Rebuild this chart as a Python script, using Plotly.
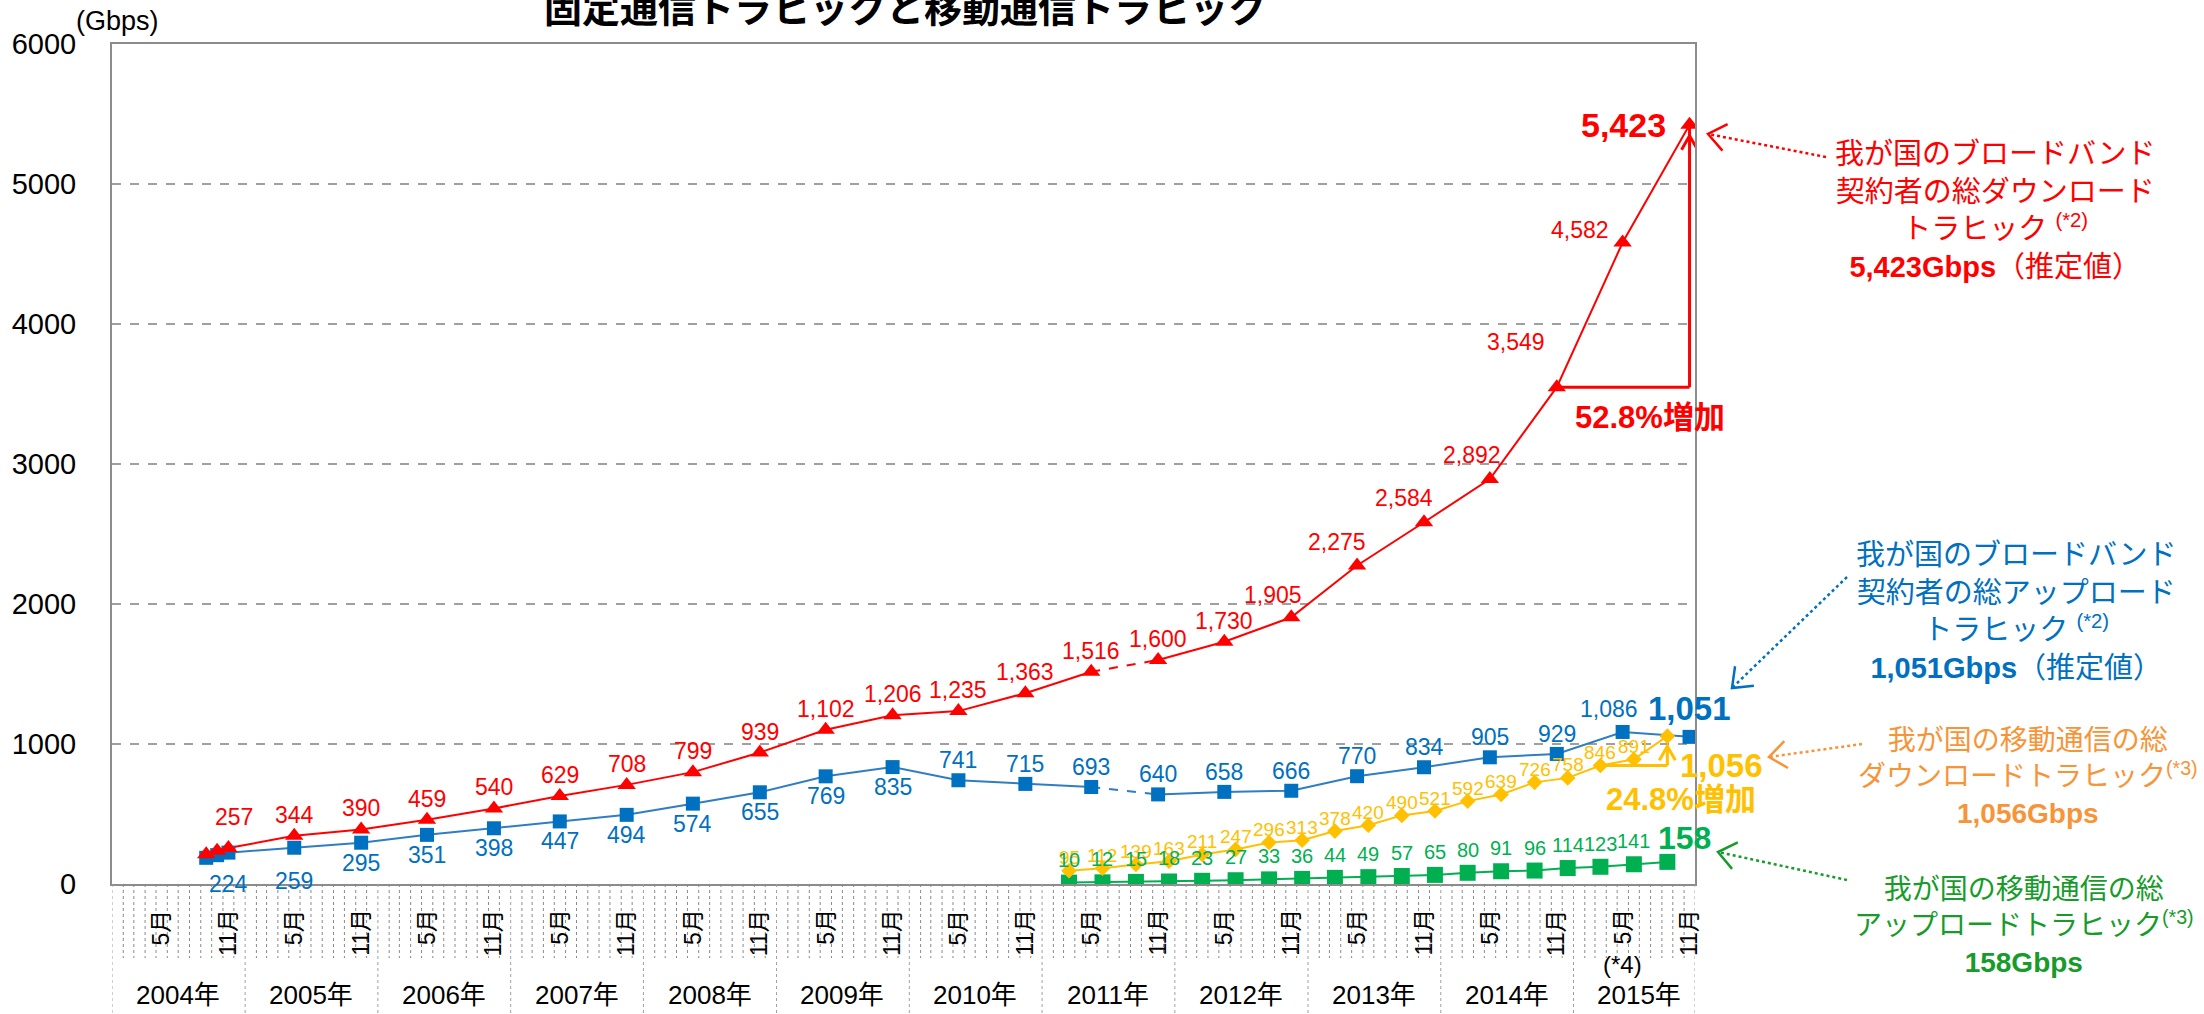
import math
import plotly.graph_objects as go

# ---------------- data ----------------
fixed_months = ["2004-09", "2004-10", "2004-11", "2005-05", "2005-11", "2006-05", "2006-11",
                "2007-05", "2007-11", "2008-05", "2008-11", "2009-05", "2009-11", "2010-05",
                "2010-11", "2011-05", "2011-11", "2012-05", "2012-11", "2013-05", "2013-11",
                "2014-05", "2014-11", "2015-05", "2015-11"]
fixed_download = [213, 237, 257, 344, 390, 459, 540, 629, 708, 799, 939, 1102, 1206, 1235,
                  1363, 1516, 1600, 1730, 1905, 2275, 2584, 2892, 3549, 4582, 5423]
fixed_upload = [187, 206, 224, 259, 295, 351, 398, 447, 494, 574, 655, 769, 835, 741,
                715, 693, 640, 658, 666, 770, 834, 905, 929, 1086, 1051]

mobile_months = ["2011-03", "2011-06", "2011-09", "2011-12", "2012-03", "2012-06", "2012-09",
                 "2012-12", "2013-03", "2013-06", "2013-09", "2013-12", "2014-03", "2014-06",
                 "2014-09", "2014-12", "2015-03", "2015-06", "2015-09"]
mobile_download = [95, 112, 139, 163, 211, 247, 296, 313, 378, 420, 490, 521, 592, 639,
                   726, 758, 846, 891, 1056]
mobile_upload = [10, 12, 15, 18, 23, 27, 33, 36, 44, 49, 57, 65, 80, 91, 96, 114, 123, 141, 158]

years = [2004, 2005, 2006, 2007, 2008, 2009, 2010, 2011, 2012, 2013, 2014, 2015]
labelled_months = [5, 11]
month_label_text = {5: "5月", 11: "11月"}
y_ticks = [0, 1000, 2000, 3000, 4000, 5000, 6000]

title_text = "固定通信トラヒックと移動通信トラヒック"
unit_text = "(Gbps)"
note4_text = "(*4)"
fixed_break = 15          # survey change between these two fixed points (dashed)
fixed_growth_from = 22    # 52.8% growth compared from this point to the last
mobile_growth_from = 16   # 24.8% growth compared from this point to the last

# ---------------- styles ----------------
W, H = 2204, 1014
PX_L, PX_R, PX_T, PX_B = 112, 1695, 44, 884
FONT = "Liberation Sans, Arial, Noto Sans CJK JP, sans-serif"
JFONT = "Noto Sans CJK JP, Liberation Sans, sans-serif"
RED = "#FF0000"
BLUE = "#0070C0"
BLUE_LINE = "#2F7DC2"
YEL = "#FFC000"
GRN = "#00B050"
ORANGE_TXT = "#F79438"
GREEN_TXT = "#179B2A"
GRID = "#A0A0A0"
FRAME = "#8C8C8C"


def fx(px):
    return (px - PX_L) / (PX_R - PX_L)


def fy(py):
    return (PX_B - py) / (PX_B - PX_T)


def mid(ym):
    return ym + "-16"


fig = go.Figure()


def add_lines(months, values, color, width, break_at=None):
    xs = [mid(m) for m in months]
    if break_at is None:
        segs = [(0, len(xs) - 1, "solid")]
    else:
        segs = [(0, break_at, "solid"), (break_at, break_at + 1, "dash"),
                (break_at + 1, len(xs) - 1, "solid")]
    for a, b, dash in segs:
        fig.add_trace(go.Scatter(x=xs[a:b + 1], y=values[a:b + 1], mode="lines",
                                 line=dict(color=color, width=width, dash=dash),
                                 hoverinfo="skip", showlegend=False))


def add_markers(months, values, color, symbol, size):
    fig.add_trace(go.Scatter(x=[mid(m) for m in months], y=values, mode="markers",
                             marker=dict(color=color, symbol=symbol, size=size,
                                         line=dict(width=0)),
                             hoverinfo="skip", showlegend=False))


add_lines(fixed_months, fixed_upload, BLUE_LINE, 2, fixed_break)
add_lines(fixed_months, fixed_download, RED, 2, fixed_break)
add_lines(mobile_months, mobile_upload, GRN, 2)
add_lines(mobile_months, mobile_download, YEL, 2)
add_markers(fixed_months, fixed_upload, BLUE, "square", 14)
add_markers(fixed_months, fixed_download, RED, "triangle-up", 16)
add_markers(mobile_months, mobile_upload, GRN, "square", 16)
add_markers(mobile_months, mobile_download, YEL, "diamond", 12)

annotations = []
shapes = []


def vlabel(xm, v, color, size, xshift=0, yshift=0, bold=False, xanchor="center"):
    txt = f"{v:,}"
    if bold:
        txt = "<b>" + txt + "</b>"
    annotations.append(dict(x=mid(xm), y=v, xref="x", yref="y", text=txt, showarrow=False,
                            font=dict(family=FONT, size=size, color=color),
                            xanchor=xanchor, yanchor="middle", xshift=xshift, yshift=yshift))


# value labels: style overrides per point index (anchor, xshift, yshift, size, bold)
red_style = {2: ("center", 6, 31, 23, False), 18: ("center", -18, 22, 23, False),
             19: ("center", -20, 24, 23, False), 20: ("center", -20, 24, 23, False),
             21: ("center", -18, 24, 23, False),
             22: ("right", -10, 45, 23, False),
             23: ("right", -12, 13, 23, False), 24: ("right", -22, 0, 34, True)}
blue_style = {2: ("center", 0, -31, 23, False), 3: ("center", 0, -33, 23, False),
              23: ("center", -14, 23, 23, False), 24: ("center", 0, 28, 33, True)}
yel_style = {18: ("left", 11, -29, 33, True)}
grn_style = {18: ("center", 17, 24, 32, True)}

for i, (m, v) in enumerate(zip(fixed_months, fixed_download)):
    if i < 2:
        continue
    a, xs, ys, sz, b = red_style.get(i, ("center", 0, 21, 23, False))
    vlabel(m, v, RED, sz, xs, ys, b, a)
for i, (m, v) in enumerate(zip(fixed_months, fixed_upload)):
    if i < 2:
        continue
    default_y = -20 if i <= 12 else 20
    a, xs, ys, sz, b = blue_style.get(i, ("center", 0, default_y, 23, False))
    vlabel(m, v, BLUE, sz, xs, ys, b, a)
for i, (m, v) in enumerate(zip(mobile_months, mobile_download)):
    a, xs, ys, sz, b = yel_style.get(i, ("center", 0, 13, 19, False))
    vlabel(m, v, YEL, sz, xs, ys, b, a)
for i, (m, v) in enumerate(zip(mobile_months, mobile_upload)):
    a, xs, ys, sz, b = grn_style.get(i, ("center", 0, 23, 20, False))
    vlabel(m, v, GRN, sz, xs, ys, b, a)


# growth brackets (L-shaped arrows)
def growth(months, values, i0, color, txt, txt_dx, txt_dy, tip_gap):
    x0, x1 = mid(months[i0]), mid(months[-1])
    y0, y1 = values[i0], values[-1]
    shapes.append(dict(type="line", xref="x", yref="y", x0=x0, x1=x1, y0=y0, y1=y0,
                       line=dict(color=color, width=3), layer="below"))
    shapes.append(dict(type="line", xref="x", yref="y", x0=x1, x1=x1, y0=y0, y1=y1,
                       line=dict(color=color, width=3), layer="below"))
    shapes.append(dict(type="path", xref="x", yref="y", xsizemode="pixel", ysizemode="pixel",
                       xanchor=x1, yanchor=y1,
                       path=f"M -8,{-tip_gap - 14} L 0,{-tip_gap} L 8,{-tip_gap - 14}",
                       line=dict(color=color, width=3)))
    annotations.append(dict(x=x1, y=y0, xref="x", yref="y", text=f"<b>{txt}</b>",
                            showarrow=False, xanchor="center", yanchor="middle",
                            xshift=txt_dx, yshift=txt_dy,
                            font=dict(family=FONT, size=31, color=color)))


fixed_rate = (fixed_download[-1] / fixed_download[fixed_growth_from] - 1) * 100
mobile_rate = (mobile_download[-1] / mobile_download[mobile_growth_from] - 1) * 100
growth(fixed_months, fixed_download, fixed_growth_from, RED, f"{fixed_rate:.1f}%増加", -40, -30, 11)
growth(mobile_months, mobile_download, mobile_growth_from, YEL, f"{mobile_rate:.1f}%増加", 14, -34, 10)


# right-hand explanatory blocks with dotted arrows
def block(cx, cy, text, color, size=29):
    annotations.append(dict(x=fx(cx), y=fy(cy), xref="paper", yref="paper", text=text,
                            showarrow=False, xanchor="center", yanchor="middle", align="center",
                            font=dict(family=FONT, size=size, color=color)))


def dotted_arrow(S, T, color, L=22, ang=38):
    shapes.append(dict(type="line", xref="paper", yref="paper",
                       x0=fx(S[0]), y0=fy(S[1]), x1=fx(T[0]), y1=fy(T[1]),
                       line=dict(color=color, width=2.5, dash="dot")))
    dx, dy = T[0] - S[0], T[1] - S[1]
    n = math.hypot(dx, dy)
    dx, dy = dx / n, dy / n
    pts = []
    for s in (1, -1):
        a = math.radians(ang) * s
        rx = dx * math.cos(a) - dy * math.sin(a)
        ry = dx * math.sin(a) + dy * math.cos(a)
        pts.append((T[0] - L * rx, T[1] - L * ry))
    path = (f"M {fx(pts[0][0])},{fy(pts[0][1])} L {fx(T[0])},{fy(T[1])} "
            f"L {fx(pts[1][0])},{fy(pts[1][1])}")
    shapes.append(dict(type="path", xref="paper", yref="paper", path=path,
                       line=dict(color=color, width=2.5)))


block(1995, 211, "我が国のブロードバンド<br>契約者の総ダウンロード<br>トラヒック <sup>(*2)</sup><br>"
      f"<b>{fixed_download[-1]:,}Gbps</b>（推定値）", RED)
block(2016, 611, "我が国のブロードバンド<br>契約者の総アップロード<br>トラヒック <sup>(*2)</sup><br>"
      f"<b>{fixed_upload[-1]:,}Gbps</b>（推定値）", BLUE)
block(2028, 777, "我が国の移動通信の総<br>ダウンロードトラヒック<sup>(*3)</sup><br>"
      f"<b>{mobile_download[-1]:,}Gbps</b>", ORANGE_TXT, 28)
block(2024, 926, "我が国の移動通信の総<br>アップロードトラヒック<sup>(*3)</sup><br>"
      f"<b>{mobile_upload[-1]:,}Gbps</b>", GREEN_TXT, 28)

dotted_arrow((1826, 157), (1708, 134), RED)
dotted_arrow((1847, 577), (1732, 688), BLUE)
dotted_arrow((1862, 744), (1769, 757), ORANGE_TXT)
dotted_arrow((1847, 880), (1718, 852), GREEN_TXT)

# category table under the plot: month grid, month labels, year labels
MONTH_BOTTOM = fy(958)
YEAR_BOTTOM = fy(1014)
for y in years:
    for m in range(2, 13):
        if y == years[-1] and m == 12:
            continue
        shapes.append(dict(type="line", xref="x", yref="paper", x0=f"{y}-{m:02d}-01",
                           x1=f"{y}-{m:02d}-01", y0=0, y1=MONTH_BOTTOM,
                           line=dict(color="#8A8A8A", width=1, dash="dot")))
    for m in labelled_months:
        annotations.append(dict(x=f"{y}-{m:02d}-16", y=fy(907), xref="x", yref="paper",
                                text=month_label_text[m], textangle=-90, showarrow=False,
                                xanchor="center", yanchor="top",
                                font=dict(family=FONT, size=23, color="#000000")))
    annotations.append(dict(x=f"{y}-07-01", y=fy(995), xref="x", yref="paper",
                            text=f"{y}年", showarrow=False, xanchor="center", yanchor="middle",
                            font=dict(family=FONT, size=26, color="#000000")))
for xb in [f"{y}-01-01" for y in years] + [f"{years[-1]}-12-01"]:
    shapes.append(dict(type="line", xref="x", yref="paper", x0=xb, x1=xb, y0=0, y1=YEAR_BOTTOM,
                       line=dict(color="#A0A0A0", width=1, dash="dot")))

annotations.append(dict(x=f"{years[-1]}-05-16", y=fy(964), xref="x", yref="paper",
                        text=note4_text, showarrow=False, xanchor="center", yanchor="middle",
                        font=dict(family=FONT, size=24, color="#000000")))

# title (cut by the top edge in the reference) and unit
annotations.append(dict(x=fx(905), y=fy(6), xref="paper", yref="paper",
                        text=f"<b>{title_text}</b>", showarrow=False,
                        xanchor="center", yanchor="middle",
                        font=dict(family=JFONT, size=38, color="#000000")))
annotations.append(dict(x=fx(74), y=fy(21), xref="paper", yref="paper", text=unit_text,
                        showarrow=False, xanchor="left", yanchor="middle",
                        font=dict(family=FONT, size=27, color="#000000")))

fig.update_layout(
    width=W, height=H,
    margin=dict(l=PX_L, r=W - PX_R, t=PX_T, b=H - PX_B, pad=0),
    paper_bgcolor="white", plot_bgcolor="white",
    showlegend=False, hovermode=False,
    annotations=annotations, shapes=shapes,
    xaxis=dict(type="date", range=["2004-01-01", f"{years[-1]}-12-01"],
               showticklabels=False, showgrid=False, zeroline=False, ticks="",
               showline=True, linecolor=FRAME, linewidth=2, mirror=True, fixedrange=True),
    yaxis=dict(range=[0, 6000], tickvals=y_ticks, ticktext=[str(t) for t in y_ticks],
               showgrid=True, gridcolor=GRID, gridwidth=1.5, griddash="dash",
               zeroline=False, ticks="", ticklabelstandoff=28,
               tickfont=dict(family=FONT, size=29, color="#000000"),
               showline=True, linecolor=FRAME, linewidth=2, mirror=True, fixedrange=True),
)

fig.write_html("out.html", config={"displayModeBar": False, "staticPlot": True},
               post_script="document.body.style.margin='0';document.body.style.overflow='hidden';")
